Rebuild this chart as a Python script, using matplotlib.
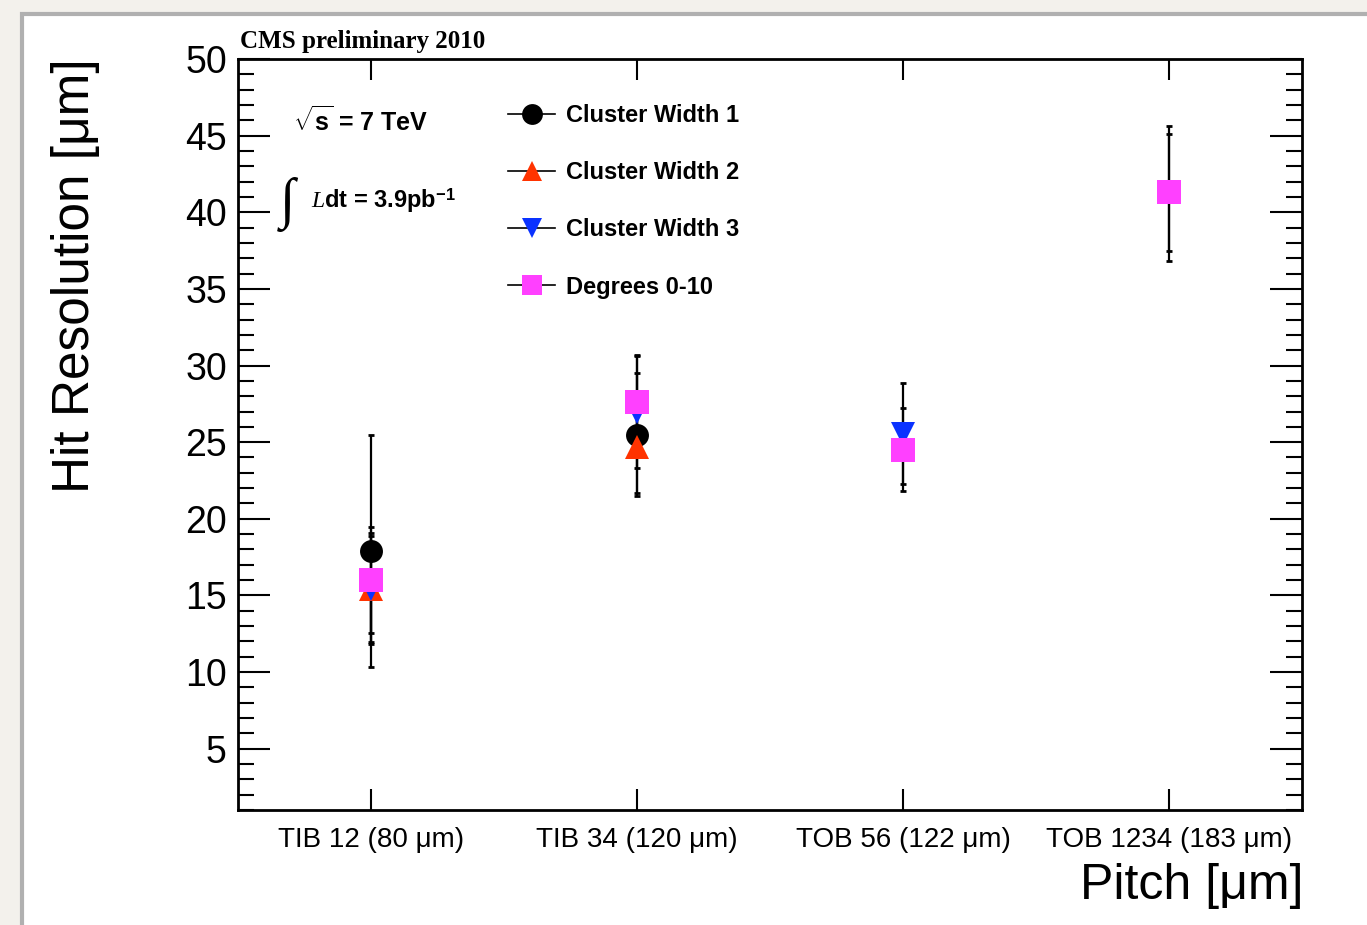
import numpy as np
import matplotlib.pyplot as plt
from matplotlib.lines import Line2D
from matplotlib.patches import Rectangle
from matplotlib.ticker import MultipleLocator, FixedLocator

plt.rcParams['font.family'] = ['Liberation Sans', 'DejaVu Sans']
plt.rcParams['mathtext.fontset'] = 'custom'
plt.rcParams['mathtext.rm'] = 'Liberation Sans'
plt.rcParams['mathtext.bf'] = 'Liberation Sans:bold'
plt.rcParams['mathtext.it'] = 'Liberation Serif:italic'

# layers / pitch categories
layers = ["TIB 12 (80 μm)", "TIB 34 (120 μm)", "TOB 56 (122 μm)", "TOB 1234 (183 μm)"]

# hit resolution [um], errors (low, high); nan = no point
cw1 = [17.9, 25.5, np.nan, 41.3]
cw1_lo = [7.6, 4.0, 0.0, 4.5]
cw1_hi = [7.6, 4.0, 0.0, 4.3]

cw2 = [15.45, 24.7, np.nan, np.nan]
cw2_lo = [3.6, 3.0, 0.0, 0.0]
cw2_hi = [3.6, 3.0, 0.0, 0.0]

cw3 = [15.4, 27.0, 25.55, np.nan]
cw3_lo = [3.45, 3.7, 3.3, 0.0]
cw3_hi = [3.45, 3.7, 3.3, 0.0]

deg = [16.0, 27.6, 24.5, 41.3]
deg_lo = [3.45, 3.0, 2.7, 3.8]
deg_hi = [3.45, 3.0, 2.7, 3.8]

W, H = 1367, 925
fig = plt.figure(figsize=(W / 100, H / 100), dpi=100, facecolor='#f3f1ec')

# white slide panel with grey border
fig.patches.append(Rectangle((22 / W, -0.1), 1.2, 1 - 14 / H + 0.1,
                             transform=fig.transFigure, facecolor='white',
                             edgecolor='#b0b0b0', linewidth=3, zorder=-10))

ax = fig.add_axes([238 / W, 1 - 810 / H, 1064 / W, 751 / H])
ax.set_facecolor('white')

x = np.arange(len(layers)) + 0.5

series = [
    (cw1, cw1_lo, cw1_hi, 'o', 'black', 'Cluster Width 1', 16.5),
    (cw2, cw2_lo, cw2_hi, '^', '#ff3300', 'Cluster Width 2', 17),
    (cw3, cw3_lo, cw3_hi, 'v', '#0a32ff', 'Cluster Width 3', 17),
    (deg, deg_lo, deg_hi, 's', '#ff40ff', 'Degrees 0-10', 17),
]

# error bars first, all in black
for vals, lo, hi, mk, col, lab, ms in series:
    vals = np.array(vals)
    ok = ~np.isnan(vals)
    ax.errorbar(x[ok], vals[ok], yerr=[np.array(lo)[ok], np.array(hi)[ok]],
                fmt='none', ecolor='black', elinewidth=1.6, capsize=2.5,
                capthick=2, zorder=2)

handles = []
for vals, lo, hi, mk, col, lab, ms in series:
    ax.plot(x, vals, linestyle='none', marker=mk, markersize=ms,
            markerfacecolor=col, markeredgewidth=0, zorder=3)
    handles.append(Line2D([], [], color='black', linewidth=1.2, marker=mk,
                          markersize=15, markerfacecolor=col,
                          markeredgewidth=0, label=lab))

ax.set_xlim(0, 4)
ax.set_ylim(1, 50)
ax.xaxis.set_major_locator(FixedLocator(x))
ax.set_xticklabels(layers)
ax.yaxis.set_major_locator(MultipleLocator(5))
ax.yaxis.set_minor_locator(MultipleLocator(1))

for s in ax.spines.values():
    s.set_linewidth(2)
ax.tick_params(axis='x', direction='in', length=15, width=1.5, top=True,
               labelsize=20, pad=12)
ax.tick_params(axis='y', which='major', direction='in', length=23, width=1.5,
               right=True, labelsize=27, pad=8)
ax.tick_params(axis='y', which='minor', direction='in', length=11.5,
               width=1.5, right=True)

leg = ax.legend(handles=handles, loc='upper left', frameon=False,
                bbox_to_anchor=(508 / W, 1 - 104 / H),
                bbox_transform=fig.transFigure, borderaxespad=0, borderpad=0,
                prop={'weight': 'bold', 'size': 17}, handlelength=2.0,
                handletextpad=0.45, labelspacing=1.45)

fig.text(76 / W, 1 - 58 / H, "Hit Resolution [μm]", rotation=90,
         ha='center', va='top', fontsize=37)
fig.text(1304 / W, 1 - 899 / H, "Pitch [μm]", ha='right', va='baseline',
         fontsize=36)
fig.text(240 / W, 1 - 48 / H, "CMS preliminary 2010", ha='left',
         va='baseline', fontsize=18, fontweight='bold',
         family='Liberation Serif')
fig.text(293 / W, 1 - 131 / H, r"$\mathbf{\sqrt{s}}$ = 7 TeV", ha='left',
         va='baseline', fontsize=18, fontweight='bold')
fig.text(280 / W, 1 - 217 / H, "∫", ha='left', va='baseline', fontsize=40,
         family='Liberation Serif')
fig.text(311 / W, 1 - 208 / H, r"$\mathit{L}$dt = 3.9pb$^{\mathbf{-1}}$",
         ha='left', va='baseline', fontsize=17, fontweight='bold')

fig.savefig('out.png', dpi=100, facecolor=fig.get_facecolor())
